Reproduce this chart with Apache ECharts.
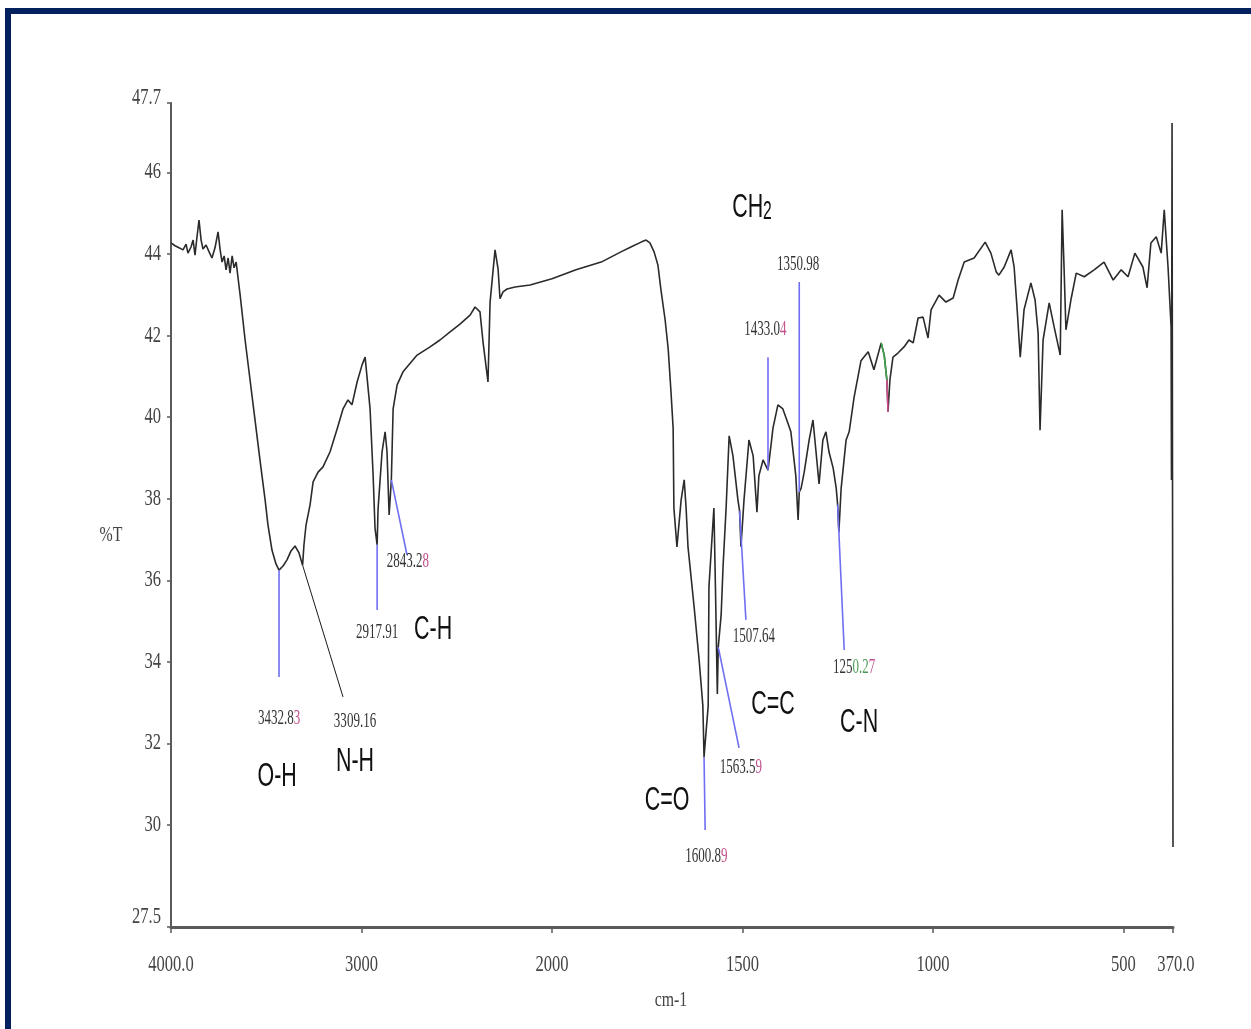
<!DOCTYPE html>
<html>
<head>
<meta charset="utf-8">
<title>FTIR spectrum</title>
<script src="https://cdn.jsdelivr.net/npm/echarts@6/dist/echarts.min.js"></script>
<style>
  html, body { margin: 0; padding: 0; background: #ffffff; }
  #chart { width: 1251px; height: 1029px; }
</style>
</head>
<body>
<div id="chart"></div>
<script>
// ---- spectrum (wavenumber in cm-1, transmittance in %T) ----
const wavenumber = [
  4000, 3979, 3958, 3937, 3921, 3911, 3895, 3884, 3874, 3863, 3853, 3842, 3832, 3816, 3800, 3785,
  3769, 3753, 3742, 3732, 3721, 3711, 3700, 3690, 3679, 3669, 3658, 3648, 3637, 3611, 3585, 3559,
  3533, 3506, 3491, 3470, 3449, 3432.83, 3412, 3391, 3370, 3349, 3328, 3309.16, 3302, 3291, 3270,
  3254, 3228, 3202, 3165, 3128, 3097, 3071, 3050, 3023, 2997, 2981, 2971, 2955, 2939, 2929,
  2917.91, 2913, 2892, 2876, 2866, 2855, 2843.28, 2834, 2813, 2782, 2708, 2640, 2588, 2535, 2483,
  2430, 2404, 2378, 2362, 2336, 2325, 2299, 2283, 2273, 2257, 2236, 2194, 2115, 2000,
  1937, 1871, 1819, 1793, 1766, 1753, 1743, 1732, 1722, 1714, 1703, 1695, 1688, 1682, 1680, 1672,
  1661, 1653, 1648, 1643, 1627, 1614, 1604, 1600.89, 1590, 1588, 1577, 1575, 1571, 1566, 1563.59,
  1556, 1551, 1543, 1535, 1525, 1512, 1507.64, 1504, 1496, 1483, 1472, 1462, 1457, 1446, 1433.04,
  1425, 1420, 1407, 1394, 1380, 1373, 1360, 1354, 1350.98, 1346, 1338, 1325, 1315, 1307, 1299,
  1289, 1281, 1273, 1262, 1254, 1250.27, 1247, 1241, 1228, 1220, 1207, 1189, 1170, 1155, 1136,
  1128, 1121, 1118, 1113, 1105, 1092, 1076, 1063, 1052, 1039, 1026, 1013, 1005, 984, 966, 947,
  934, 918, 892, 863, 848, 834, 827, 813, 795, 787, 779, 771, 761, 743, 732, 724, 719, 711, 695,
  682, 666, 661, 656, 651, 638, 624, 603, 577, 551, 527, 506, 488, 470, 449, 438, 428, 414, 401,
  393, 383, 375, 374, 372.5, 370
];
const transmittance = [
  44.27, 44.20, 44.15, 44.10, 44.24, 44.02, 44.17, 44.34, 43.97, 44.44, 44.83, 44.34, 44.12, 44.22, 44.05, 43.90,
  44.15, 44.54, 44.10, 43.80, 43.95, 43.61, 43.90, 43.53, 43.95, 43.66, 43.80, 43.41, 42.99, 41.89, 40.91, 39.93,
  38.95, 37.97, 37.36, 36.74, 36.40, 36.25, 36.35, 36.50, 36.72, 36.84, 36.67, 36.37, 36.87, 37.36, 37.85,
  38.41, 38.65, 38.78, 39.15, 39.71, 40.20, 40.42, 40.30, 40.86, 41.28, 41.47, 41.45, 40.20, 38.58, 37.28,
  36.87, 37.75, 39.15, 39.64, 39.15, 37.60, 38.46, 40.20, 40.79, 41.11, 41.52, 41.72, 41.89, 42.09, 42.28,
  42.50, 42.70, 42.58, 41.84, 40.86, 42.82, 44.10, 43.63, 42.90, 43.07, 43.14, 43.19, 43.24, 43.39,
  43.61, 43.80, 44.05, 44.17, 44.29, 44.34, 44.27, 44.05, 43.73, 43.12, 42.38, 41.67, 40.67, 39.73, 37.77, 36.82,
  37.97, 38.46, 37.77, 36.82, 35.35, 34.07, 32.92, 31.67, 32.92, 35.84, 37.48, 37.77, 35.84, 33.21, 34.36,
  35.15, 36.33, 37.77, 39.54, 39.05, 37.97, 37.70, 36.82, 37.97, 39.44, 39.05, 37.67, 38.56, 38.95, 38.70,
  39.32, 39.73, 40.30, 40.20, 39.83, 39.64, 38.56, 37.48, 38.16, 38.26, 38.65, 39.44, 39.93, 39.15, 38.36,
  39.44, 39.64, 39.15, 38.75, 38.26, 37.85, 37.18, 38.26, 39.44, 39.64, 40.49, 41.38, 41.60, 41.16, 41.82,
  41.52, 40.91, 40.13, 40.91, 41.47, 41.57, 41.72, 41.89, 41.82, 42.43, 42.45, 41.94, 42.63, 42.99, 42.82, 42.92,
  43.36, 43.80, 43.90, 44.29, 44.02, 43.56, 43.48, 43.68, 44.10, 43.68, 42.63, 41.47, 42.63, 43.29, 42.87, 42.06, 39.68, 41.89, 42.80,
  42.21, 41.52, 45.08, 43.68, 42.14, 42.87, 43.53, 43.44, 43.61, 43.80, 43.36, 43.61, 43.44, 44.02, 43.68, 43.17, 44.27, 44.42, 44.02,
  45.08, 43.68, 42.21, 38.46, 47.21, 29.46
];

// ---- axis ticks ----
const xTickWn = [4000, 3000, 2000, 1500, 1000, 500, 370];
const xTickText = ['4000.0', '3000', '2000', '1500', '1000', '500', '370.0'];
const yTickVal = [27.5, 30, 32, 34, 36, 38, 40, 42, 44, 46, 47.7];
const yTickText = ['27.5', '30', '32', '34', '36', '38', '40', '42', '44', '46', '47.7'];

// ---- picked peaks and band assignments ----
const peakWn = [3432.83, 3309.16, 2917.91, 2843.28, 1600.89, 1563.59, 1507.64, 1433.04, 1350.98, 1250.27];
const groupText = ['O-H', 'N-H', 'C-H', 'C=O', 'C=C', 'C-N', 'CH2'];

// Leader geometry for each peak: end of the leader and centre of its number, in (cm-1, %T)
const leaderLayout = [
  { end: [3432.83, 33.63], text: [3432.83, 32.62], color: '#6f6ff2', width: 1.6, tint: 'p' },
  { end: [3097, 33.14],    text: [3034, 32.53],    color: '#1a1a1a', width: 1,   tint: 'n' },
  { end: [2917.91, 35.27], text: [2917.91, 34.73], color: '#6f6ff2', width: 1.6, tint: 'n' },
  { end: [2761, 36.62],    text: [2756, 36.45],    color: '#6f6ff2', width: 1.6, tint: 'p' },
  { end: [1598, 29.88],    text: [1595, 29.22],    color: '#6f6ff2', width: 1.6, tint: 'p' },
  { end: [1509, 31.89],    text: [1504, 31.40],    color: '#6f6ff2', width: 1.6, tint: 'p' },
  { end: [1491, 35.03],    text: [1470, 34.63],    color: '#6f6ff2', width: 1.6, tint: 'n' },
  { end: [1433.04, 41.47], text: [1440, 42.14],    color: '#6f6ff2', width: 1.6, tint: 'p' },
  { end: [1350.98, 43.31], text: [1354, 43.73],    color: '#6f6ff2', width: 1.6, tint: 'n' },
  { end: [1233, 34.29],    text: [1207, 33.85],    color: '#6f6ff2', width: 1.6, tint: 'gp' }
];
// Centres of the band assignment texts, in (cm-1, %T)
const groupLayout = [
  [3443, 31.18], [3034, 31.55], [2624, 34.78], [1698, 30.61], [1420, 32.94], [1194, 32.50], [1475, 45.13]
];

// The range above 2000 cm-1 is drawn at half scale, as on the instrument printout.
const tx = w => (w <= 2000 ? w : 2000 + (w - 2000) / 2);

// %T on the spectrum at a given wavenumber (linear between recorded points)
function curveAt(w) {
  for (let i = 0; i < wavenumber.length - 1; i++) {
    const a = wavenumber[i], b = wavenumber[i + 1];
    if (w <= a && w >= b) {
      const f = a === b ? 0 : (a - w) / (a - b);
      return transmittance[i] + f * (transmittance[i + 1] - transmittance[i]);
    }
  }
  return transmittance[transmittance.length - 1];
}

const SERIF = "'Liberation Serif', 'Times New Roman', serif";
const SANS = "'Liberation Sans', Arial, sans-serif";

function peakRich(s, tint) {
  if (tint === 'p') return '{n|' + s.slice(0, -1) + '}{p|' + s.slice(-1) + '}';
  if (tint === 'gp') return '{n|' + s.slice(0, 3) + '}{g|' + s.slice(3, 6) + '}{p|' + s.slice(6) + '}';
  return '{n|' + s + '}';
}

// ---- all printed text, drawn narrow like the instrument's plot font ----
const peakRichStyle = {
  n: { font: '21px ' + SERIF, fill: '#333333' },
  p: { font: '21px ' + SERIF, fill: '#c2508c' },
  g: { font: '21px ' + SERIF, fill: '#4c9a55' }
};
const bandRichStyle = {
  b: { font: '34px ' + SANS, fill: '#111111', lineHeight: 34 },
  s: { font: '25px ' + SANS, fill: '#111111', lineHeight: 25, verticalAlign: 'bottom' }
};

const textItems = [];
// y tick labels (at the left axis)
yTickVal.forEach((v, i) => textItems.push({
  at: [3000, v], dx: -10, dy: (v === 47.7 ? -5 : v === 27.5 ? -10 : 0),
  text: yTickText[i], font: '23px ' + SERIF, fill: '#444444', align: 'right', sx: 0.72
}));
// x tick labels (below the bottom axis)
xTickWn.forEach((w, i) => textItems.push({
  at: [tx(w), 27.5], dx: (w === 370 ? 3 : 0), dy: 38,
  text: xTickText[i], font: '23px ' + SERIF, fill: '#444444', align: 'center', sx: 0.72
}));
// peak numbers
peakWn.forEach((w, i) => textItems.push({
  at: [tx(leaderLayout[i].text[0]), leaderLayout[i].text[1]], dx: 0, dy: 0,
  text: peakRich(w.toFixed(2), leaderLayout[i].tint), rich: peakRichStyle,
  font: '21px ' + SERIF, fill: '#333333', align: 'center', sx: 0.62
}));
// band assignments
groupText.forEach((t, i) => textItems.push({
  at: [tx(groupLayout[i][0]), groupLayout[i][1]], dx: 0, dy: 0,
  text: t === 'CH2' ? '{b|CH}{s|2}' : '{b|' + t + '}', rich: bandRichStyle,
  font: '34px ' + SANS, fill: '#111111', align: 'center', sx: 0.63
}));

const spectrum = wavenumber.map((w, i) => [tx(w), transmittance[i]]);

// coloured tick on the small band near 1120 cm-1
const greenPart = wavenumber.map((w, i) => [w, i]).filter(d => d[0] <= 1136 && d[0] >= 1121)
  .map(d => [tx(d[0]), transmittance[d[1]]]);
const pinkPart = wavenumber.map((w, i) => [w, i]).filter(d => d[0] <= 1121 && d[0] >= 1118)
  .map(d => [tx(d[0]), transmittance[d[1]]]);

const series = [
  {
    type: 'line', data: spectrum, symbol: 'none', z: 3,
    lineStyle: { color: '#2b2b2b', width: 1.6 }, silent: true
  },
  { type: 'line', data: greenPart, symbol: 'none', z: 4, lineStyle: { color: '#3fa34d', width: 1.6 }, silent: true },
  { type: 'line', data: pinkPart, symbol: 'none', z: 4, lineStyle: { color: '#d0508f', width: 1.6 }, silent: true }
];

// leaders from the curve to each peak number
peakWn.forEach((w, i) => {
  const L = leaderLayout[i];
  series.push({
    type: 'line', symbol: 'none', z: 5, silent: true,
    lineStyle: { color: L.color, width: L.width },
    data: [[tx(w), curveAt(w)], [tx(L.end[0]), L.end[1]]]
  });
});

// text layer
series.push({
  type: 'custom', coordinateSystem: 'cartesian2d', z: 6, silent: true, clip: false,
  encode: { x: 0, y: 1 },
  data: textItems.map((it, i) => [it.at[0], it.at[1], i]),
  renderItem: (params, api) => {
    const it = textItems[api.value(2)];
    const p = api.coord([api.value(0), api.value(1)]);
    const style = {
      text: it.text, font: it.font, fill: it.fill,
      align: it.align, verticalAlign: 'middle'
    };
    if (it.rich) style.rich = it.rich;
    return { type: 'text', x: p[0] + it.dx, y: p[1] + it.dy, scaleX: it.sx, scaleY: 1, style: style };
  }
});

const chart = echarts.init(document.getElementById('chart'), null, { renderer: 'canvas' });
chart.setOption({
  animation: false,
  backgroundColor: '#ffffff',
  grid: { left: 171, right: 78, top: 103, bottom: 102 },
  xAxis: {
    type: 'value', min: 370, max: 3000, inverse: true,
    axisLine: { show: true, onZero: false, lineStyle: { color: '#5a5a5a', width: 3 } },
    axisTick: { show: true, length: 6, customValues: xTickWn.map(tx), lineStyle: { color: '#5a5a5a', width: 1.5 } },
    axisLabel: { show: false },
    splitLine: { show: false }
  },
  yAxis: {
    type: 'value', min: 27.5, max: 47.7,
    axisLine: { show: true, lineStyle: { color: '#5a5a5a', width: 2 } },
    axisTick: { show: true, length: 4, customValues: yTickVal, lineStyle: { color: '#5a5a5a', width: 1.5 } },
    axisLabel: { show: false },
    splitLine: { show: false }
  },
  graphic: [
    { type: 'rect', shape: { x: 5, y: 8, width: 1246, height: 6 }, style: { fill: '#03205f' }, z: 10 },
    { type: 'rect', shape: { x: 5, y: 8, width: 6, height: 1021 }, style: { fill: '#03205f' }, z: 10 },
    { type: 'text', x: 111, y: 535, scaleX: 0.72,
      style: { text: '%T', font: '22px ' + SERIF, fill: '#444444', textAlign: 'center', textVerticalAlign: 'middle' } },
    { type: 'text', x: 671, y: 1000, scaleX: 0.72,
      style: { text: 'cm-1', font: '22px ' + SERIF, fill: '#444444', textAlign: 'center', textVerticalAlign: 'middle' } }
  ],
  series: series
});
</script>
</body>
</html>
